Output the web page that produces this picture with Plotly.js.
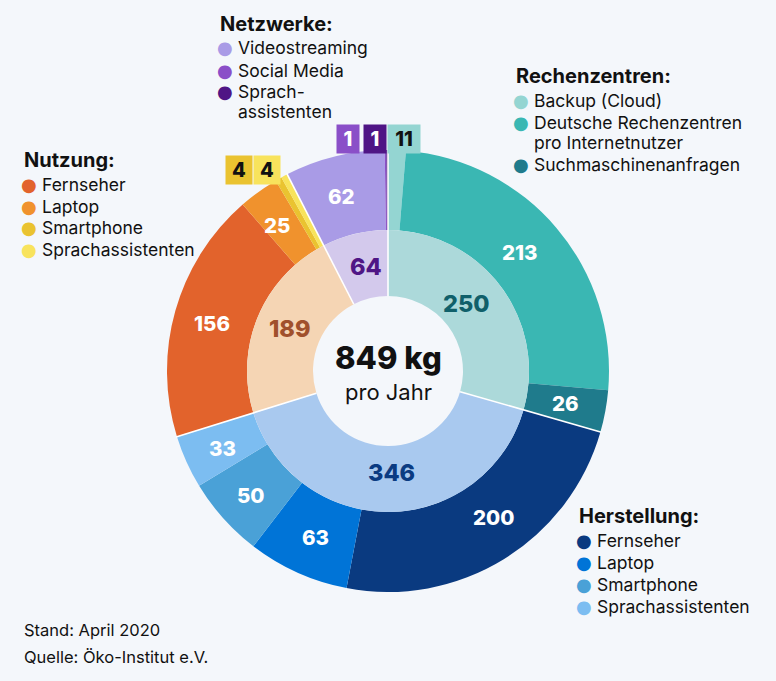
<!DOCTYPE html>
<html><head><meta charset="utf-8">
<script src="https://cdn.plot.ly/plotly-3.0.1.min.js"></script>
<style>html,body{margin:0;padding:0;background:#f4f7fb;}</style>
</head><body><div id="chart" style="width:776px;height:681px;"></div>
<script>
// ---- data ----
const groupLabels = ["Rechenzentren", "Herstellung", "Nutzung", "Netzwerke"];
const groupValues = [250, 346, 189, 64];
const groupColors = ["#acd9da", "#a9c9ef", "#f5d5b4", "#d3c9ec"];
const groupTextColors = ["#10606a", "#0b3b82", "#a0502c", "#4f1585"];

const itemLabels = ["Backup (Cloud)", "Deutsche Rechenzentren pro Internetnutzer", "Suchmaschinenanfragen",
  "Herstellung Fernseher", "Herstellung Laptop", "Herstellung Smartphone", "Herstellung Sprachassistenten",
  "Nutzung Fernseher", "Nutzung Laptop", "Nutzung Smartphone", "Nutzung Sprachassistenten",
  "Videostreaming", "Social Media", "Netzwerke Sprachassistenten"];
const itemValues = [11, 213, 26, 200, 63, 50, 33, 156, 25, 4, 4, 62, 1, 1];
const itemColors = ["#94d5d2", "#3ab7b3", "#1f7b8c", "#0a3a80", "#0074d7", "#4aa1d7", "#7cbdf1",
  "#e2632c", "#f0922d", "#eac330", "#f8e35c", "#a99be6", "#8a4fc8", "#4f1585"];
const smallLimit = 12; // values drawn as boxes outside the ring

const total = groupValues.reduce((a, b) => a + b, 0);

// ---- geometry / label placement (pixels) ----
const W = 776, H = 681, CX = 388, CY = 371, R_OUT = 221, R_MID = 141, R_IN = 75;
const FONT = "Inter, 'DejaVu Sans', sans-serif";
const px2x = x => x / W, px2y = y => 1 - y / H;
// label positions for the values in the rings (placed by hand in the original)
const itemLabelPos = [null, [520, 252], [565, 403], [493, 517], [315, 537], [251, 495], [222, 448],
  [212, 323], [277, 225], null, null, [341, 196], null, null];
const groupLabelPos = [[466, 303], [391, 473], [290, 328], [366, 267]];
// boxes for small values
const boxPos = {9: [239, 170, 24], 10: [267, 170, 24], 12: [348, 139, 20], 13: [375, 139, 20], 0: [404, 139, 30]};

const outer = {
  type: "pie", values: itemValues, labels: itemLabels, sort: false, direction: "clockwise", rotation: 0,
  domain: {x: [px2x(CX - R_OUT), px2x(CX + R_OUT)], y: [px2y(CY + R_OUT), px2y(CY - R_OUT)]},
  hole: R_MID / R_OUT,
  marker: {colors: itemColors, line: {width: 0}},
  textinfo: "none", hoverinfo: "none", showlegend: false
};
const inner = {
  type: "pie", values: groupValues, labels: groupLabels, sort: false, direction: "clockwise", rotation: 0,
  domain: {x: [px2x(CX - R_MID), px2x(CX + R_MID)], y: [px2y(CY + R_MID), px2y(CY - R_MID)]},
  hole: R_IN / R_MID,
  marker: {colors: groupColors, line: {width: 0}},
  textinfo: "none", hoverinfo: "none", showlegend: false
};

// group boundary lines (computed from data)
const shapes = [];
let cum = 0;
[0].concat(groupValues.slice(0, -1)).forEach(v => {
  cum += v;
  const th = cum / total * 2 * Math.PI;
  const s = Math.sin(th), c = Math.cos(th);
  shapes.push({type: "line", xref: "paper", yref: "paper",
    x0: px2x(CX + R_IN * s), y0: px2y(CY - R_IN * c),
    x1: px2x(CX + (R_OUT + 1) * s), y1: px2y(CY - (R_OUT + 1) * c),
    line: {color: "#ffffff", width: 1.6}});
});

const ann = [];
function txt(x, y, text, size, bold, extra) {
  ann.push(Object.assign({xref: "paper", yref: "paper", x: px2x(x), y: px2y(y), xanchor: "left", yanchor: "middle",
    text: text, showarrow: false, align: "left",
    font: {family: FONT, size: size, color: "#111111", weight: bold ? 700 : 400}}, extra || {}));
}
function legend(x, y, title, items, colors) {
  txt(x - 1, y, title, 20, true);
  let yy = y + 24;
  items.forEach((it, i) => {
    const lines = it.split("<br>");
    ann.push({xref: "paper", yref: "paper", x: px2x(x + 6), y: px2y(yy), xanchor: "center", yanchor: "middle",
      text: "●", showarrow: false, font: {family: "DejaVu Sans", size: 18, color: colors[i]}});
    lines.forEach((ln, j) => { txt(x + 17, yy + j * 20, ln, 17.5, false); });
    yy += 22 + (lines.length - 1) * 20;
  });
}
legend(219, 24, "Netzwerke:", ["Videostreaming", "Social Media", "Sprach-<br>assistenten"], itemColors.slice(11, 14));
legend(515, 76, "Rechenzentren:", ["Backup (Cloud)", "Deutsche Rechenzentren<br>pro Internetnutzer", "Suchmaschinenanfragen"], itemColors.slice(0, 3));
legend(23, 160, "Nutzung:", ["Fernseher", "Laptop", "Smartphone", "Sprachassistenten"], itemColors.slice(7, 11));
legend(578, 516, "Herstellung:", ["Fernseher", "Laptop", "Smartphone", "Sprachassistenten"], itemColors.slice(3, 7));

txt(22, 630, "Stand: April 2020", 16.5, false);
txt(22, 657, "Quelle: Öko-Institut e.V.", 16.5, false);

// centre
ann.push({xref: "paper", yref: "paper", x: px2x(CX), y: px2y(357), xanchor: "center", yanchor: "middle",
  text: String(total) + " kg", showarrow: false, font: {family: FONT, size: 31, color: "#111111", weight: 800}});
ann.push({xref: "paper", yref: "paper", x: px2x(CX), y: px2y(392), xanchor: "center", yanchor: "middle",
  text: "pro Jahr", showarrow: false, font: {family: FONT, size: 22, color: "#111111"}});

// value labels in rings
itemValues.forEach((v, i) => {
  const p = itemLabelPos[i];
  if (!p || v <= smallLimit) return;
  ann.push({xref: "paper", yref: "paper", x: px2x(p[0]), y: px2y(p[1]), xanchor: "center", yanchor: "middle",
    text: String(v), showarrow: false, font: {family: FONT, size: 20.5, color: "#ffffff", weight: 800}});
});
groupValues.forEach((v, i) => {
  const p = groupLabelPos[i];
  ann.push({xref: "paper", yref: "paper", x: px2x(p[0]), y: px2y(p[1]), xanchor: "center", yanchor: "middle",
    text: String(v), showarrow: false, font: {family: FONT, size: 23.5, color: groupTextColors[i], weight: 800}});
});

// small value boxes
Object.keys(boxPos).forEach(k => {
  const i = +k, b = boxPos[k];
  const dark = ["#8a4fc8", "#4f1585"].includes(itemColors[i]);
  ann.push({xref: "paper", yref: "paper", x: px2x(b[0]), y: px2y(b[1]), xanchor: "center", yanchor: "middle",
    text: String(itemValues[i]), showarrow: false, bgcolor: itemColors[i], width: b[2], height: 26, borderpad: 1,
    font: {family: FONT, size: 20, color: dark ? "#ffffff" : "#111111", weight: 800}});
});

Plotly.newPlot("chart", [outer, inner], {
  width: W, height: H, margin: {l: 0, r: 0, t: 0, b: 0},
  paper_bgcolor: "#f4f7fb", plot_bgcolor: "#f4f7fb",
  shapes: shapes, annotations: ann, showlegend: false
}, {staticPlot: true});
</script></body></html>
